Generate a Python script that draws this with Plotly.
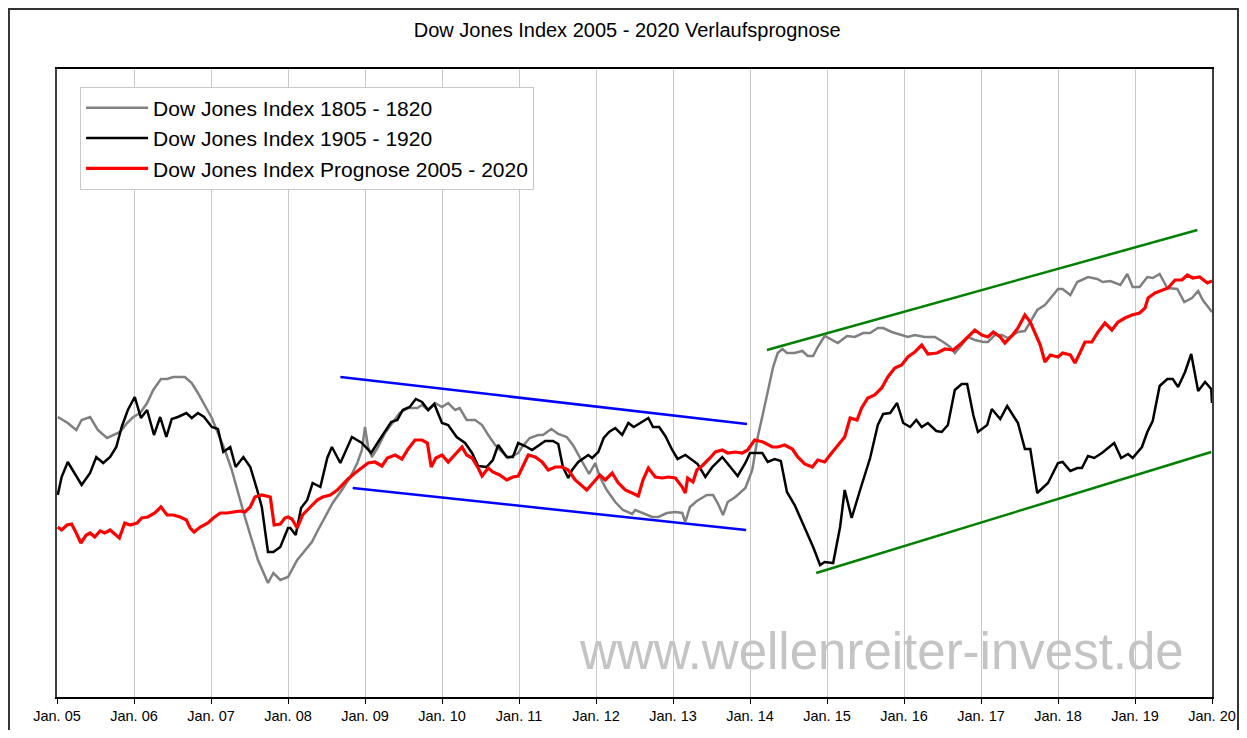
import plotly.graph_objects as go

# ---- data (x = decimal year, y = relative index level) ----
gray_x = [2005.01, 2005.14, 2005.25, 2005.32, 2005.43, 2005.53, 2005.65, 2005.73, 2005.82, 2005.91, 2005.99,
          2006.08, 2006.17, 2006.25, 2006.35, 2006.43, 2006.51, 2006.66, 2006.75, 2006.83, 2006.92,
          2007.01, 2007.09, 2007.18, 2007.27, 2007.35, 2007.44, 2007.53, 2007.61, 2007.74, 2007.81, 2007.90,
          2008.00, 2008.12, 2008.22, 2008.31, 2008.39, 2008.48, 2008.58, 2008.70, 2008.81, 2008.90, 2008.96,
          2009.00, 2009.04, 2009.09, 2009.17, 2009.26, 2009.35, 2009.45, 2009.56, 2009.68, 2009.74, 2009.82, 2009.91,
          2010.00, 2010.08, 2010.17, 2010.23, 2010.32, 2010.43, 2010.52, 2010.60, 2010.69, 2010.78, 2010.86, 2010.99,
          2011.04, 2011.14, 2011.25, 2011.31, 2011.42, 2011.51, 2011.62, 2011.70, 2011.79, 2011.86, 2011.91, 2011.99,
          2012.05, 2012.14, 2012.25, 2012.35, 2012.47, 2012.51, 2012.61, 2012.73, 2012.81, 2012.92,
          2013.03, 2013.12, 2013.16, 2013.22, 2013.31, 2013.44, 2013.52, 2013.58, 2013.65, 2013.71, 2013.81, 2013.94,
          2014.03, 2014.10, 2014.17, 2014.23, 2014.30, 2014.36, 2014.42, 2014.48, 2014.58, 2014.68, 2014.75, 2014.82, 2014.88, 2014.97,
          2015.06, 2015.14, 2015.26, 2015.36, 2015.47, 2015.56, 2015.66, 2015.73, 2015.84, 2015.95,
          2016.05, 2016.14, 2016.27, 2016.40, 2016.51, 2016.60, 2016.66, 2016.75, 2016.83, 2016.92,
          2017.03, 2017.09, 2017.18, 2017.27, 2017.35, 2017.48, 2017.57, 2017.64, 2017.73, 2017.83, 2017.92,
          2018.00, 2018.06, 2018.16, 2018.25, 2018.39, 2018.51, 2018.58, 2018.68, 2018.81, 2018.90, 2018.97,
          2019.06, 2019.16, 2019.23, 2019.32, 2019.42, 2019.55, 2019.64, 2019.74, 2019.82, 2019.88, 2020.00]
gray_y = [280, 274, 267, 277, 280, 267, 259, 262, 265, 274, 280,
          284, 294, 307, 318, 318, 320, 320, 314, 304, 292,
          279, 264, 247, 227, 204, 180, 157, 137, 114, 124, 117,
          120, 137, 147, 155, 167, 180, 194, 207, 220, 234, 247,
          270, 250, 240, 250, 264, 274, 284, 289, 289, 292, 287, 294,
          290, 294, 287, 289, 277, 277, 272, 262, 252, 245, 239, 244,
          250, 259, 262, 262, 268, 263, 260, 252, 240, 230, 223, 234,
          220, 207, 195, 187, 183, 187, 184, 180, 180, 184,
          185, 184, 175, 190, 196, 202, 202, 194, 182, 195, 200, 209,
          227, 260, 284, 304, 330, 344, 348, 344, 344, 346, 341, 341, 350, 361,
          357, 354, 361, 360, 364, 364, 369, 369, 365, 362,
          360, 362, 360, 360, 355, 350, 344, 352, 360, 357,
          355, 355, 362, 362, 359, 365, 366, 375, 387, 392, 400,
          408, 408, 402, 415, 420, 418, 415, 416, 412, 423, 410,
          410, 420, 419, 423, 409, 408, 395, 399, 406, 397, 385]

black_x = [2005.01, 2005.06, 2005.14, 2005.23, 2005.32, 2005.43, 2005.51, 2005.60, 2005.69, 2005.77, 2005.84, 2005.92,
           2006.01, 2006.09, 2006.17, 2006.26, 2006.34, 2006.42, 2006.49, 2006.57, 2006.68, 2006.75, 2006.83, 2006.91,
           2007.01, 2007.09, 2007.16, 2007.25, 2007.32, 2007.42, 2007.51, 2007.60, 2007.66, 2007.74, 2007.81, 2007.90,
           2008.00, 2008.03, 2008.10, 2008.17, 2008.25, 2008.32, 2008.42, 2008.51, 2008.57, 2008.68, 2008.83, 2008.96,
           2009.08, 2009.17, 2009.26, 2009.34, 2009.42, 2009.49, 2009.58, 2009.66, 2009.74, 2009.82, 2009.90,
           2010.00, 2010.08, 2010.19, 2010.30, 2010.39, 2010.47, 2010.58, 2010.66, 2010.73, 2010.84, 2010.92, 2010.99,
           2011.08, 2011.17, 2011.25, 2011.34, 2011.44, 2011.51, 2011.57, 2011.64, 2011.69, 2011.77, 2011.90, 2011.95,
           2012.03, 2012.10, 2012.17, 2012.25, 2012.34, 2012.42, 2012.49, 2012.58, 2012.68, 2012.74, 2012.82, 2012.90, 2012.99,
           2013.06, 2013.16, 2013.25, 2013.32, 2013.42, 2013.51, 2013.64, 2013.74, 2013.84, 2013.94,
           2014.00, 2014.06, 2014.16, 2014.23, 2014.32, 2014.40, 2014.48, 2014.58, 2014.71, 2014.82, 2014.91, 2014.97,
           2015.08, 2015.17, 2015.23, 2015.32, 2015.43, 2015.56, 2015.66, 2015.73, 2015.82, 2015.91, 2015.99,
           2016.08, 2016.16, 2016.23, 2016.31, 2016.42, 2016.49, 2016.57, 2016.66, 2016.75, 2016.82, 2016.90, 2016.96,
           2017.04, 2017.08, 2017.14, 2017.25, 2017.34, 2017.48, 2017.57, 2017.64, 2017.73, 2017.87,
           2018.00, 2018.06, 2018.16, 2018.25, 2018.31, 2018.39, 2018.47, 2018.57, 2018.73, 2018.82, 2018.91, 2018.97,
           2019.09, 2019.16, 2019.23, 2019.32, 2019.42, 2019.49, 2019.56, 2019.65, 2019.73, 2019.82, 2019.91, 2019.99, 2020.00]
black_y = [202, 220, 235, 224, 212, 224, 240, 234, 240, 250, 270, 287,
           300, 279, 287, 262, 280, 260, 278, 280, 284, 279, 284, 280,
           270, 268, 245, 250, 230, 240, 230, 207, 190, 145, 145, 150,
           169, 169, 162, 189, 197, 214, 210, 239, 250, 234, 260, 254,
           244, 255, 265, 275, 277, 287, 290, 298, 295, 287, 293,
           274, 272, 260, 254, 244, 231, 230, 237, 252, 240, 240, 254,
           251, 247, 251, 256, 256, 253, 230, 219, 227, 235, 242, 239,
           245, 259, 265, 269, 262, 274, 270, 274, 279, 270, 270, 261, 247,
           238, 242, 237, 233, 220, 230, 240, 230, 221, 234,
           244, 244, 244, 235, 238, 236, 205, 192, 170, 150, 132, 135,
           134, 170, 207, 179, 207, 239, 272, 283, 284, 294, 274,
           270, 277, 270, 274, 266, 265, 272, 307, 313, 313, 282, 265,
           270, 272, 288, 278, 291, 274, 248, 248, 204, 214,
           234, 235, 226, 229, 229, 241, 239, 244, 254, 239, 243, 239,
           250, 265, 276, 311, 318, 318, 310, 325, 343, 306, 315, 308, 294]

red_x = [2005.01, 2005.06, 2005.13, 2005.19, 2005.25, 2005.31, 2005.38, 2005.43, 2005.49, 2005.56, 2005.62, 2005.69,
         2005.75, 2005.81, 2005.88, 2005.95, 2006.04, 2006.10, 2006.18, 2006.27, 2006.35, 2006.43, 2006.51, 2006.60,
         2006.68, 2006.73, 2006.78, 2006.86, 2006.96, 2007.03, 2007.12, 2007.21, 2007.29, 2007.38, 2007.44, 2007.51,
         2007.57, 2007.66, 2007.77, 2007.82, 2007.90, 2007.96, 2008.00, 2008.05, 2008.12, 2008.19, 2008.29, 2008.38,
         2008.45, 2008.55, 2008.64, 2008.70, 2008.78, 2008.87, 2008.96, 2009.04, 2009.13, 2009.22, 2009.29, 2009.39,
         2009.48, 2009.56, 2009.65, 2009.74, 2009.81, 2009.86, 2009.92, 2010.00, 2010.08, 2010.17, 2010.26, 2010.32,
         2010.39, 2010.47, 2010.52, 2010.60, 2010.66, 2010.75, 2010.84, 2010.92, 2010.99, 2011.04, 2011.12, 2011.21,
         2011.30, 2011.38, 2011.47, 2011.56, 2011.64, 2011.73, 2011.82, 2011.88, 2011.96, 2012.05, 2012.12, 2012.21,
         2012.29, 2012.38, 2012.47, 2012.55, 2012.61, 2012.68, 2012.77, 2012.86, 2012.94, 2013.03, 2013.12, 2013.16,
         2013.19, 2013.26, 2013.31, 2013.39, 2013.48, 2013.55, 2013.64, 2013.71, 2013.81, 2013.90, 2013.97, 2014.04,
         2014.06, 2014.17, 2014.29, 2014.36, 2014.45, 2014.55, 2014.62, 2014.71, 2014.81, 2014.88, 2014.97, 2015.06,
         2015.14, 2015.23, 2015.30, 2015.39, 2015.45, 2015.53, 2015.62, 2015.71, 2015.79, 2015.88, 2015.97, 2016.05,
         2016.14, 2016.23, 2016.31, 2016.43, 2016.53, 2016.64, 2016.75, 2016.83, 2016.92, 2017.01, 2017.09, 2017.16,
         2017.25, 2017.31, 2017.40, 2017.48, 2017.57, 2017.64, 2017.70, 2017.77, 2017.83, 2017.90, 2018.00, 2018.06,
         2018.16, 2018.22, 2018.29, 2018.35, 2018.44, 2018.52, 2018.61, 2018.70, 2018.78, 2018.87, 2018.96, 2019.06,
         2019.13, 2019.17, 2019.26, 2019.35, 2019.43, 2019.52, 2019.61, 2019.68, 2019.75, 2019.84, 2019.94, 2020.00]
red_y = [170, 167, 172, 173, 164, 154, 162, 164, 160, 166, 164, 167,
         163, 159, 174, 172, 174, 179, 180, 184, 190, 182, 182, 180,
         177, 169, 165, 170, 174, 179, 184, 184, 185, 186, 185, 190,
         200, 202, 200, 172, 173, 179, 180, 178, 169, 182, 190, 197,
         200, 202, 207, 212, 218, 224, 229, 234, 235, 231, 239, 242,
         238, 248, 257, 257, 254, 230, 239, 242, 235, 242, 250, 242,
         239, 229, 221, 229, 225, 222, 217, 220, 221, 229, 242, 240,
         235, 227, 230, 230, 227, 217, 211, 207, 214, 222, 217, 224,
         214, 207, 204, 201, 217, 229, 220, 219, 220, 219, 210, 204,
         219, 215, 227, 232, 239, 245, 247, 244, 245, 244, 247, 255,
         257, 255, 250, 250, 252, 248, 240, 233, 230, 237, 235, 244,
         252, 260, 279, 277, 289, 299, 302, 309, 320, 329, 332, 340,
         345, 352, 343, 344, 348, 347, 354, 360, 367, 362, 360, 365,
         360, 354, 361, 369, 382, 375, 364, 352, 335, 342, 340, 344,
         342, 334, 345, 355, 355, 365, 374, 367, 375, 379, 382, 384,
         389, 399, 404, 407, 409, 417, 417, 422, 419, 420, 414, 416]

# trend channels (start/end points)
blue_up_x, blue_up_y = [2008.68, 2013.96], [320, 273]
blue_lo_x, blue_lo_y = [2008.84, 2013.95], [209, 167]
green_up_x, green_up_y = [2014.22, 2019.81], [347, 467]
green_lo_x, green_lo_y = [2014.86, 2019.99], [124, 245]

tick_vals = list(range(2005, 2021))
tick_text = ["Jan. %02d" % (v % 100) for v in tick_vals]

FONT = "Liberation Sans, Arial, sans-serif"

fig = go.Figure()
for x, y in [(blue_up_x, blue_up_y), (blue_lo_x, blue_lo_y)]:
    fig.add_trace(go.Scatter(x=x, y=y, mode="lines", line=dict(color="#0000ff", width=2.5),
                             showlegend=False, hoverinfo="skip"))
for x, y in [(green_up_x, green_up_y), (green_lo_x, green_lo_y)]:
    fig.add_trace(go.Scatter(x=x, y=y, mode="lines", line=dict(color="#008000", width=2.5),
                             showlegend=False, hoverinfo="skip"))

fig.add_trace(go.Scatter(x=gray_x, y=gray_y, mode="lines", name="Dow Jones Index 1805 - 1820",
                         line=dict(color="#808080", width=2.5)))
fig.add_trace(go.Scatter(x=black_x, y=black_y, mode="lines", name="Dow Jones Index 1905 - 1920",
                         line=dict(color="#000000", width=2.5)))
fig.add_trace(go.Scatter(x=red_x, y=red_y, mode="lines", name="Dow Jones Index Prognose 2005 - 2020",
                         line=dict(color="#ff0000", width=3.2)))

# page body has an 8px margin; the figure is sized/placed to compensate
fig.update_layout(
    width=1231, height=722,
    margin=dict(l=49, r=27, t=61, b=33, autoexpand=False),
    paper_bgcolor="white", plot_bgcolor="white",
    font=dict(family=FONT, color="black"),
    title=dict(text="Dow Jones Index 2005 - 2020 Verlaufsprognose", x=0.503, xanchor="center",
               y=0.9695, yanchor="middle", font=dict(size=20, family=FONT, color="black")),
    legend=dict(x=0.02, y=0.972, xanchor="left", yanchor="top", bgcolor="white",
                bordercolor="#c8c8c8", borderwidth=1, font=dict(size=21, family=FONT),
                itemwidth=62),
    xaxis=dict(range=[2005, 2020], tickvals=tick_vals, ticktext=tick_text, showgrid=True,
               gridcolor="#c8c8c8", gridwidth=1, showline=True, linecolor="#000000", linewidth=1.5,
               mirror=True, ticks="outside", ticklen=5, tickcolor="black", automargin=False,
               tickfont=dict(size=14.5, family=FONT, color="black"), zeroline=False),
    yaxis=dict(range=[0, 628], showticklabels=False, showgrid=False, zeroline=False, automargin=False,
               showline=True, linecolor="#404040", linewidth=1.5, mirror=True, ticks=""),
    annotations=[dict(text="www.wellenreiter-invest.de", xref="paper", yref="paper",
                      x=0.714, y=0.073, xanchor="center", yanchor="middle", showarrow=False,
                      font=dict(size=51, family=FONT, color="#c4c4c4"))],
    shapes=[dict(type="rect", xref="paper", yref="paper", x0=-0.0416, x1=1.0225, y0=-0.1, y1=1.0955,
                 line=dict(color="#333333", width=2), layer="below")],
)

fig.write_html("out.html")
